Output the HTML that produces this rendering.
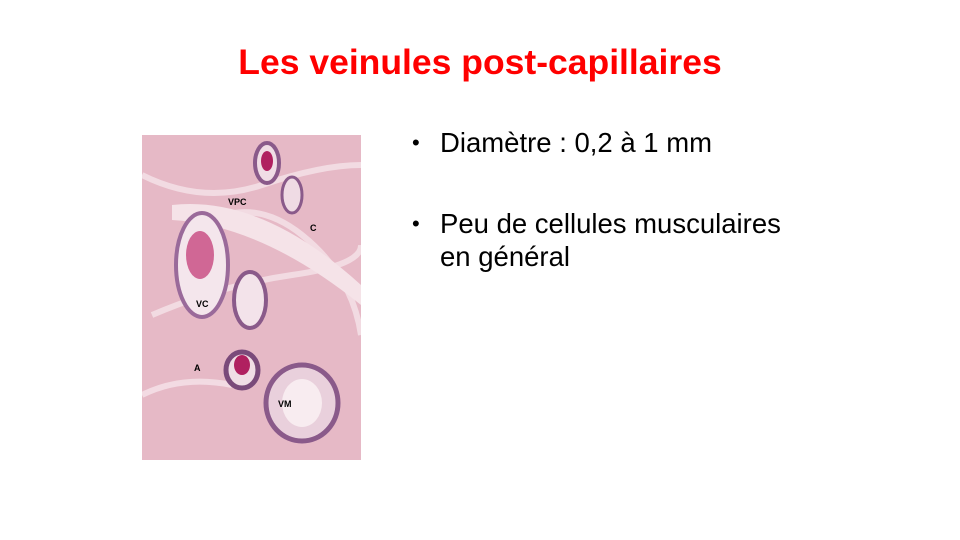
<!DOCTYPE html>
<html><head><meta charset="utf-8"><style>
body{margin:0;width:960px;height:540px;background:#fff;position:relative;overflow:hidden;font-family:"Liberation Sans",sans-serif}
.t{position:absolute;left:0;width:960px;top:42px;text-align:center;color:#f00;font-weight:bold;font-size:35.5px}
.b{position:absolute;left:412px;font-size:27.5px;color:#000;line-height:33px}
.b span{position:absolute;left:0;font-size:22px}
.b div{margin-left:28px}
</style></head><body>
<div class="t">Les veinules post-capillaires</div>
<svg style="position:absolute;left:142px;top:135px" width="219" height="325">
<rect width="219" height="325" fill="#e6b9c6"/>
<g fill="none" stroke="#f6e4ea" stroke-width="6" opacity=".8">
<path d="M0 40 Q60 70 120 50 T219 30"/><path d="M10 180 Q80 150 150 140 T219 110"/><path d="M0 260 Q40 240 90 250"/><path d="M60 90 Q110 60 160 100 T219 200"/>
</g>
<path d="M30 70 Q120 60 219 150 L219 170 Q120 90 30 85Z" fill="#f5e3e8"/>
<ellipse cx="60" cy="130" rx="26" ry="52" fill="#f4e6ec" stroke="#9a6a9a" stroke-width="4"/>
<ellipse cx="58" cy="120" rx="14" ry="24" fill="#c03070" opacity=".7"/>
<ellipse cx="108" cy="165" rx="16" ry="28" fill="#f3e3ea" stroke="#8a5a8a" stroke-width="4"/>
<ellipse cx="100" cy="235" rx="16" ry="18" fill="#f0dde5" stroke="#7a4a7a" stroke-width="5"/>
<ellipse cx="100" cy="230" rx="8" ry="10" fill="#b02060"/>
<ellipse cx="160" cy="268" rx="36" ry="38" fill="#e9d0dc" stroke="#8a5a8a" stroke-width="5"/>
<ellipse cx="160" cy="268" rx="20" ry="24" fill="#f8ecf0"/>
<ellipse cx="125" cy="28" rx="12" ry="20" fill="#f0dde5" stroke="#8a5a8a" stroke-width="4"/>
<ellipse cx="125" cy="26" rx="6" ry="10" fill="#b02060"/>
<ellipse cx="150" cy="60" rx="10" ry="18" fill="#efdbe4" stroke="#8a5a8a" stroke-width="3"/>
<g font-size="9" font-weight="bold" fill="#000" font-family="Liberation Sans,sans-serif">
<text x="86" y="70">VPC</text><text x="168" y="96">C</text><text x="54" y="172">VC</text><text x="52" y="236">A</text><text x="136" y="272">VM</text>
</g>
</svg>
<div class="b" style="top:126px"><span>•</span><div>Diamètre : 0,2 à 1 mm</div></div>
<div class="b" style="top:207px"><span>•</span><div>Peu de cellules musculaires<br>en général</div></div>
</body></html>
